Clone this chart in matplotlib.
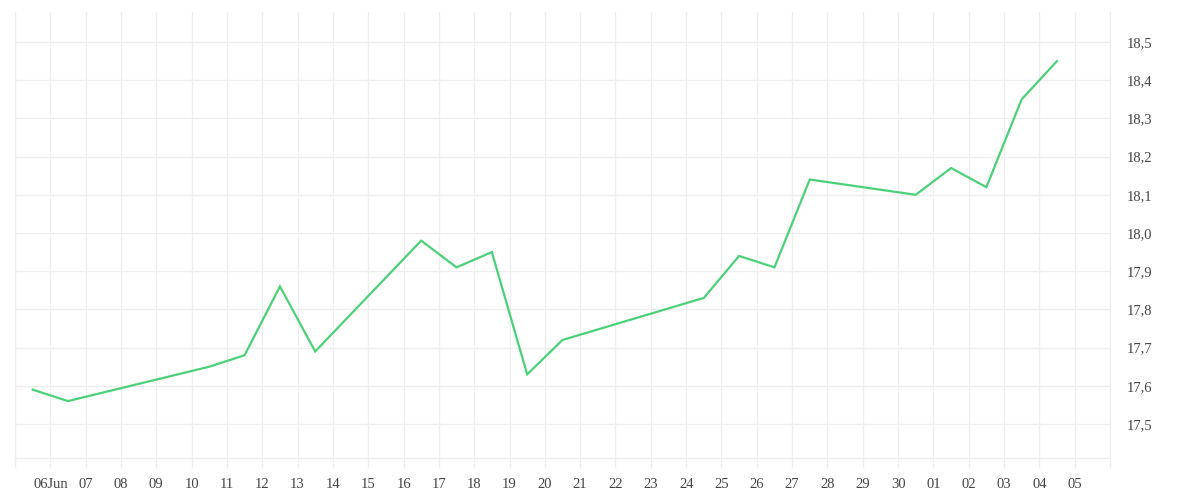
import matplotlib
matplotlib.use("Agg")
import matplotlib.pyplot as plt
import matplotlib.dates as mdates
import pandas as pd
import numpy as np

# daily closing values, trading days only
dates = ["2019-06-06", "2019-06-07", "2019-06-11", "2019-06-12", "2019-06-13",
         "2019-06-14", "2019-06-17", "2019-06-18", "2019-06-19", "2019-06-20",
         "2019-06-21", "2019-06-25", "2019-06-26", "2019-06-27", "2019-06-28",
         "2019-07-01", "2019-07-02", "2019-07-03", "2019-07-04", "2019-07-05"]
values = [17.59, 17.56, 17.65, 17.68, 17.86,
          17.69, 17.98, 17.91, 17.95, 17.63,
          17.72, 17.83, 17.94, 17.91, 18.14,
          18.10, 18.17, 18.12, 18.35, 18.45]

y_ticks = [17.5, 17.6, 17.7, 17.8, 17.9, 18.0, 18.1, 18.2, 18.3, 18.4, 18.5]

grid_col = "#eeeeee"
text_col = "#444444"
line_col = "#4cd17a"

plt.rcParams["font.family"] = ["Liberation Serif", "DejaVu Serif"]

fig = plt.figure(figsize=(12, 5), dpi=100)
ax = fig.add_axes([15 / 1200, 42 / 500, (1110 - 15) / 1200, (458 - 12) / 500])

# points sit half a day before their date tick (time zone shift in the original)
x = pd.to_datetime(dates) - pd.Timedelta(hours=12)
ax.plot(x, values, color=line_col, linewidth=1.6, solid_joinstyle="miter")

day_ticks = pd.date_range("2019-06-05", "2019-07-06", freq="D")
labels = []
for d in day_ticks:
    if d == day_ticks[0] or d == day_ticks[-1]:
        labels.append("")
    elif d.day == 6 and d.month == 6:
        labels.append("06Jun")
    else:
        labels.append(d.strftime("%d"))
ax.set_xticks(day_ticks)
ax.set_xticklabels(labels)
ax.set_xlim(day_ticks[0], day_ticks[-1])

ax.set_ylim(17.411, 18.5785)
ax.set_yticks(y_ticks)
ax.set_yticklabels([("%.1f" % v).replace(".", ",") for v in y_ticks])
ax.yaxis.tick_right()

ax.grid(True, color=grid_col, linewidth=0.9)
ax.set_axisbelow(True)

ax.tick_params(axis="x", length=7.2, width=0.9, color=grid_col, pad=7,
               labelsize=10.5, labelcolor=text_col)
ax.tick_params(axis="y", length=0, pad=12, labelsize=10.5, labelcolor=text_col)

for s in ["left", "right", "bottom"]:
    ax.spines[s].set_color(grid_col)
    ax.spines[s].set_linewidth(0.9)
ax.spines["top"].set_visible(False)

fig.savefig("out.png", dpi=100, facecolor="white")
